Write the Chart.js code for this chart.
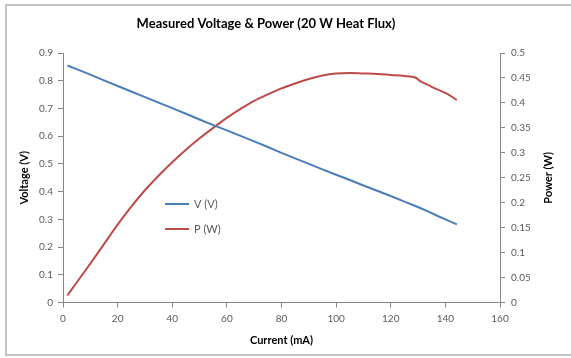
<!DOCTYPE html>
<html>
<head>
<meta charset="utf-8">
<script src="https://cdn.jsdelivr.net/npm/chart.js@4.4.1/dist/chart.umd.min.js"></script>
<style>
  html, body { margin: 0; padding: 0; background: #fff; }
  #wrap { width: 571px; height: 358px; position: relative; }
</style>
</head>
<body>
<div id="wrap"><canvas id="c" width="571" height="358"></canvas></div>
<script>
const chartTitle = "Measured Voltage & Power (20 W Heat Flux)";
const xTitle = "Current (mA)";
const yLeftTitle = "Voltage (V)";
const yRightTitle = "Power (W)";
const seriesLabels = ["V (V)", "P (W)"];

const currentMA = [1.6, 5, 10, 15, 20, 25, 30, 35, 40, 45, 50, 55, 60, 65, 70, 75, 80, 85, 90, 95, 100, 105, 110, 115, 120, 125, 129, 131, 134, 137, 140, 144.2];
const voltageV = [0.855, 0.842, 0.822, 0.801, 0.781, 0.761, 0.741, 0.721, 0.701, 0.681, 0.660, 0.640, 0.621, 0.601, 0.581, 0.561, 0.540, 0.520, 0.500, 0.480, 0.461, 0.442, 0.422, 0.403, 0.384, 0.364, 0.348, 0.340, 0.327, 0.313, 0.300, 0.282];
const powerW = [0.014, 0.040, 0.078, 0.117, 0.156, 0.192, 0.225, 0.254, 0.281, 0.306, 0.329, 0.350, 0.370, 0.388, 0.404, 0.417, 0.429, 0.439, 0.448, 0.455, 0.459, 0.460, 0.459, 0.458, 0.456, 0.454, 0.451, 0.443, 0.435, 0.427, 0.420, 0.406];

const FONT = "Lato, 'Open Sans', 'Liberation Sans', sans-serif";
const tickColor = "#595959";
const axisColor = "#868686";

const fmt = v => String(Number(Number(v).toFixed(2)));

const decor = {
  id: 'decor',
  beforeDraw(chart) {
    const ctx = chart.ctx;
    ctx.save();
    ctx.strokeStyle = '#c4c4c4';
    ctx.lineWidth = 2;
    ctx.strokeRect(6, 5, 600, 350);
    ctx.restore();
  },
  afterDraw(chart) {
    const ctx = chart.ctx;
    const ca = chart.chartArea;
    ctx.save();
    ctx.fillStyle = '#000';
    ctx.font = "bold 13px " + FONT;
    ctx.textAlign = 'center';
    ctx.textBaseline = 'middle';
    ctx.fillText(chartTitle, 266, 24);
    ctx.save();
    ctx.translate(548, (ca.top + ca.bottom) / 2);
    ctx.rotate(-Math.PI / 2);
    ctx.font = "bold 11px " + FONT;
    ctx.fillStyle = '#000';
    ctx.fillText(yRightTitle, 0, 0);
    ctx.restore();
    const ys = [204, 229];
    chart.data.datasets.forEach((ds, i) => {
      ctx.strokeStyle = ds.borderColor;
      ctx.lineWidth = 2;
      ctx.beginPath();
      ctx.moveTo(165, ys[i]);
      ctx.lineTo(189, ys[i]);
      ctx.stroke();
      ctx.fillStyle = tickColor;
      ctx.font = "11px " + FONT;
      ctx.textAlign = 'left';
      ctx.fillText(ds.label, 194, ys[i] + 0.5);
    });
    ctx.restore();
  }
};

new Chart(document.getElementById('c'), {
  type: 'line',
  data: {
    datasets: [
      {
        label: seriesLabels[0],
        data: currentMA.map((x, i) => ({ x: x, y: voltageV[i] })),
        borderColor: '#4A7EBB',
        borderWidth: 2,
        pointRadius: 0,
        tension: 0,
        yAxisID: 'y'
      },
      {
        label: seriesLabels[1],
        data: currentMA.map((x, i) => ({ x: x, y: powerW[i] })),
        borderColor: '#BE4B48',
        borderWidth: 2,
        pointRadius: 0,
        tension: 0.3,
        cubicInterpolationMode: 'monotone',
        yAxisID: 'y1'
      }
    ]
  },
  options: {
    responsive: false,
    animation: false,
    devicePixelRatio: 1,
    layout: { padding: { left: 0, right: 0, top: 53, bottom: 7 } },
    plugins: {
      legend: { display: false },
      title: { display: false },
      tooltip: { enabled: false }
    },
    scales: {
      x: {
        type: 'linear',
        min: 0, max: 160,
        ticks: { stepSize: 20, color: tickColor, font: { family: FONT, size: 10 }, padding: 5, maxRotation: 0 },
        grid: { drawOnChartArea: false, drawTicks: true, tickLength: 5, color: axisColor },
        border: { color: axisColor, width: 1 },
        title: { display: true, text: xTitle, color: '#000', font: { family: FONT, size: 11, weight: 'bold' }, padding: { top: 2, bottom: 4 } },
        afterFit(s) { s.height = 48.5; }
      },
      y: {
        position: 'left',
        min: 0, max: 0.9,
        ticks: { stepSize: 0.1, color: tickColor, font: { family: FONT, size: 10 }, padding: 5, callback: v => fmt(v) },
        grid: { drawOnChartArea: false, drawTicks: true, tickLength: 5, color: axisColor },
        border: { color: axisColor, width: 1 },
        title: { display: true, text: yLeftTitle, color: '#000', font: { family: FONT, size: 11, weight: 'bold' }, padding: { top: 18, bottom: 0 } },
        afterFit(s) { s.width = 63; }
      },
      y1: {
        position: 'right',
        min: 0, max: 0.5,
        ticks: { stepSize: 0.05, color: tickColor, font: { family: FONT, size: 10 }, padding: 6, callback: v => fmt(v) },
        grid: { drawOnChartArea: false, drawTicks: true, tickLength: 5, color: axisColor },
        border: { color: axisColor, width: 1 },
        afterFit(s) { s.width = 71; }
      }
    }
  },
  plugins: [decor]
});
</script>
</body>
</html>
